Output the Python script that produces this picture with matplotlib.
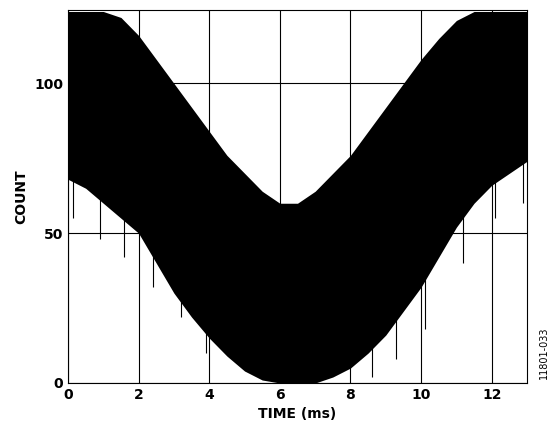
import matplotlib
matplotlib.use("Agg")
import matplotlib.pyplot as plt

# envelope of the dense noisy trace
time_ms = [0, 0.5, 1, 1.5, 2, 2.5, 3, 3.5, 4, 4.5, 5, 5.5, 6, 6.5, 7, 7.5, 8, 8.5, 9, 9.5, 10, 10.5, 11, 11.5, 12, 12.5, 13]
upper =   [124, 124, 124, 122, 116, 108, 100, 92, 84, 76, 70, 64, 60, 60, 64, 70, 76, 84, 92, 100, 108, 115, 121, 124, 124, 124, 124]
lower =   [68, 65, 60, 55, 50, 40, 30, 22, 15, 9, 4, 1, 0, 0, 0, 2, 5, 10, 16, 24, 32, 42, 52, 60, 66, 70, 74]
# occasional spikes below the band
spike_t = [0.15, 0.9, 1.6, 2.4, 3.2, 3.9, 8.6, 9.3, 10.1, 11.2, 12.1, 12.9]
spike_lo = [55, 48, 42, 32, 22, 10, 2, 8, 18, 40, 55, 60]

fig = plt.figure(figsize=(5.52, 4.41), dpi=100)
ax = fig.add_axes([68/552, 1-383/441, 459/552, 373/441])
ax.fill_between(time_ms, lower, upper, color="black", lw=0)
for t, lo in zip(spike_t, spike_lo):
    ax.vlines(t, lo, lo + 20, color="black", lw=0.8)
ax.set_xlim(0, 13)
ax.set_ylim(0, 124.5)
ax.set_xticks([0, 2, 4, 6, 8, 10, 12])
ax.set_yticks([0, 50, 100])
ax.grid(True, color="black", lw=0.8)
ax.tick_params(length=0, labelsize=10)
for lbl in ax.get_xticklabels() + ax.get_yticklabels():
    lbl.set_fontweight("bold")
ax.set_xlabel("TIME (ms)", fontweight="bold", fontsize=10)
ax.set_ylabel("COUNT", fontweight="bold", fontsize=10)
for s in ax.spines.values():
    s.set_linewidth(0.8)
fig.text(0.985, 0.2, "11801-033", rotation=90, fontsize=7, ha="center", va="center")
fig.savefig("out.png", dpi=100)
